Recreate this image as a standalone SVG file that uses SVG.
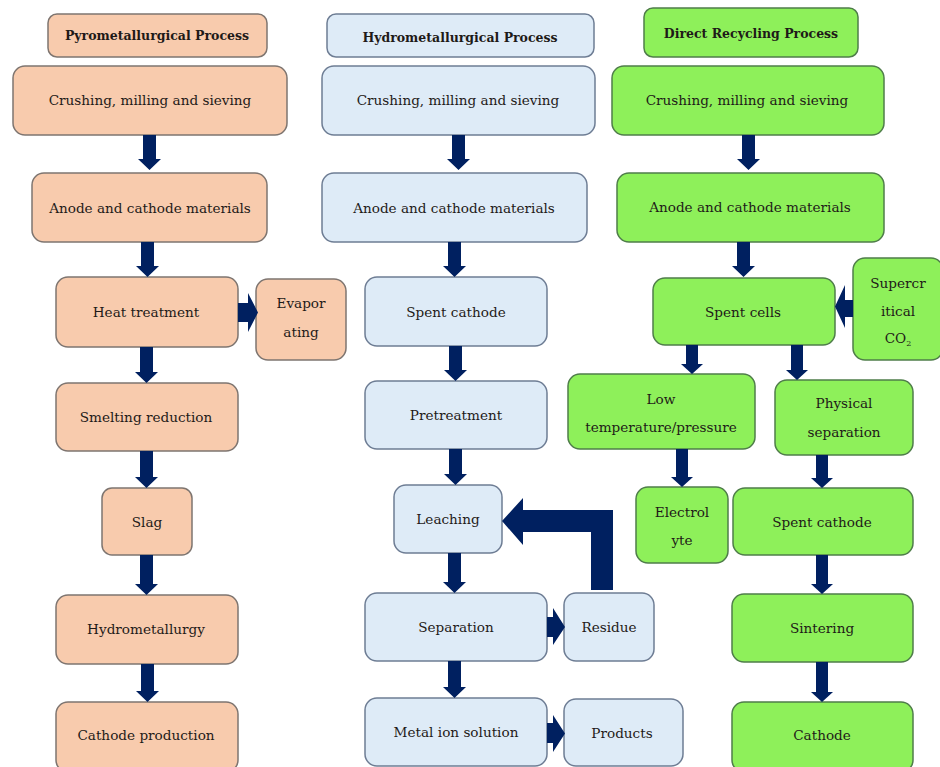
<svg xmlns="http://www.w3.org/2000/svg" width="940" height="767" viewBox="0 0 940 767">
<style>
.p{fill:#F8CBAD;stroke:#7E7570;stroke-width:1.5}
.h{fill:#DEEBF7;stroke:#6E7D94;stroke-width:1.5}
.d{fill:#8EF05A;stroke:#4F7D4A;stroke-width:1.5}
text{font-family:"DejaVu Serif","Liberation Serif",serif;font-size:13.6px;fill:#1E1A18;text-anchor:middle}
.t{font-weight:bold;font-size:12.5px}
.a{fill:#002060}
</style>
<rect width="940" height="767" fill="#FFFFFF"/>
<g id="p-title"><rect class="p" x="48" y="14" width="219" height="43" rx="9"/><text class="t" x="157" y="40">Pyrometallurgical Process</text></g>
<g id="p-crush"><rect class="p" x="13" y="66" width="274" height="69" rx="12"/><text x="150" y="105">Crushing, milling and sieving</text></g>
<g id="p-anode"><rect class="p" x="32" y="173" width="235" height="69" rx="12"/><text x="150" y="213">Anode and cathode materials</text></g>
<g id="p-heat"><rect class="p" x="56" y="277" width="182" height="70" rx="12"/><text x="146" y="317">Heat treatment</text></g>
<g id="p-evap"><rect class="p" x="256" y="279" width="90" height="81" rx="12"/><text x="301" y="308">Evapor</text><text x="301" y="337">ating</text></g>
<g id="p-smelt"><rect class="p" x="56" y="383" width="182" height="68" rx="12"/><text x="146" y="422">Smelting reduction</text></g>
<g id="p-slag"><rect class="p" x="102" y="488" width="90" height="67" rx="10"/><text x="147" y="527">Slag</text></g>
<g id="p-hydro"><rect class="p" x="56" y="595" width="182" height="69" rx="12"/><text x="146" y="634">Hydrometallurgy</text></g>
<g id="p-cathode"><rect class="p" x="56" y="702" width="182" height="70" rx="12"/><text x="146" y="740">Cathode production</text></g>

<g id="h-title"><rect class="h" x="327" y="14" width="267" height="43" rx="9"/><text class="t" x="460" y="42">Hydrometallurgical Process</text></g>
<g id="h-crush"><rect class="h" x="322" y="66" width="273" height="69" rx="12"/><text x="458" y="105">Crushing, milling and sieving</text></g>
<g id="h-anode"><rect class="h" x="322" y="173" width="265" height="69" rx="12"/><text x="454" y="213">Anode and cathode materials</text></g>
<g id="h-spent"><rect class="h" x="365" y="277" width="182" height="69" rx="12"/><text x="456" y="317">Spent cathode</text></g>
<g id="h-pre"><rect class="h" x="365" y="381" width="182" height="68" rx="12"/><text x="456" y="420">Pretreatment</text></g>
<g id="h-leach"><rect class="h" x="394" y="485" width="108" height="68" rx="12"/><text x="448" y="524">Leaching</text></g>
<g id="h-sep"><rect class="h" x="365" y="593" width="182" height="68" rx="12"/><text x="456" y="632">Separation</text></g>
<g id="h-res"><rect class="h" x="564" y="593" width="90" height="68" rx="12"/><text x="609" y="632">Residue</text></g>
<g id="h-metal"><rect class="h" x="365" y="698" width="182" height="68" rx="12"/><text x="456" y="737">Metal ion solution</text></g>
<g id="h-prod"><rect class="h" x="564" y="699" width="119" height="67" rx="12"/><text x="622" y="738">Products</text></g>

<g id="d-title"><rect class="d" x="644" y="8" width="214" height="49" rx="9"/><text class="t" x="751" y="38">Direct Recycling Process</text></g>
<g id="d-crush"><rect class="d" x="612" y="66" width="272" height="69" rx="12"/><text x="747" y="105">Crushing, milling and sieving</text></g>
<g id="d-anode"><rect class="d" x="617" y="173" width="267" height="69" rx="12"/><text x="750" y="212">Anode and cathode materials</text></g>
<g id="d-cells"><rect class="d" x="653" y="278" width="182" height="67" rx="12"/><text x="743" y="317">Spent cells</text></g>
<g id="d-co2"><rect class="d" x="853" y="258" width="90" height="102" rx="12"/><text x="898" y="288">Supercr</text><text x="898" y="316">itical</text><text x="898" y="343">CO<tspan font-size="8" dy="3">2</tspan></text></g>
<g id="d-low"><rect class="d" x="568" y="374" width="187" height="75" rx="12"/><text x="661" y="404">Low</text><text x="661" y="432">temperature/pressure</text></g>
<g id="d-phys"><rect class="d" x="775" y="380" width="138" height="75" rx="12"/><text x="844" y="408">Physical</text><text x="844" y="437">separation</text></g>
<g id="d-elec"><rect class="d" x="636" y="487" width="92" height="76" rx="12"/><text x="682" y="517">Electrol</text><text x="682" y="545">yte</text></g>
<g id="d-spent"><rect class="d" x="733" y="488" width="180" height="67" rx="12"/><text x="822" y="527">Spent cathode</text></g>
<g id="d-sinter"><rect class="d" x="732" y="594" width="181" height="68" rx="12"/><text x="822" y="633">Sintering</text></g>
<g id="d-cathode"><rect class="d" x="732" y="702" width="181" height="70" rx="12"/><text x="822" y="740">Cathode</text></g>

<g id="connectors" class="a">
<polygon points="143,135 156,135 156,159 161,159 149.5,170 138,159 143,159"/>
<polygon points="141,242 154,242 154,266 159,266 147.5,277 136,266 141,266"/>
<polygon points="140,347 153,347 153,372 158,372 146.5,383 135,372 140,372"/>
<polygon points="140,451 153,451 153,477 158,477 146.5,488 135,477 140,477"/>
<polygon points="140,555 153,555 153,584 158,584 146.5,595 135,584 140,584"/>
<polygon points="141,664 154,664 154,691 159,691 147.5,702 136,691 141,691"/>
<polygon points="238,303 248,303 248,293 258,312.5 248,332 248,322 238,322"/>
<polygon points="452,135 465,135 465,159 470,159 458.5,170 447,159 452,159"/>
<polygon points="448,242 461,242 461,266 466,266 454.5,277 443,266 448,266"/>
<polygon points="449,346 462,346 462,370 467,370 455.5,381 444,370 449,370"/>
<polygon points="449,449 462,449 462,474 467,474 455.5,485 444,474 449,474"/>
<polygon points="448,553 461,553 461,582 466,582 454.5,593 443,582 448,582"/>
<polygon points="448,661 461,661 461,687 466,687 454.5,698 443,687 448,687"/>
<polygon points="547,617 553,617 553,608 565,627 553,645 553,637 547,637"/>
<polygon points="547,723 553,723 553,715 565,733.5 553,752 553,743 547,743"/>
<polygon points="613,590 591,590 591,532 523,532 523,545 502,521 523,498 523,510 613,510"/>
<polygon points="742,135 755,135 755,159 760,159 748.5,170 737,159 742,159"/>
<polygon points="737,242 750,242 750,266 755,266 743.5,277 732,266 737,266"/>
<polygon points="853,300 845,300 845,285 835,306.5 845,328 845,317 853,317"/>
<polygon points="686,345 698,345 698,364 703,364 692,374 681,364 686,364"/>
<polygon points="791,345 803,345 803,370 808,370 797,380 786,370 791,370"/>
<polygon points="676,449 688,449 688,477 693,477 682,487 671,477 676,477"/>
<polygon points="816,455 828,455 828,478 833,478 822,488 811,478 816,478"/>
<polygon points="816,555 828,555 828,584 833,584 822,594 811,584 816,584"/>
<polygon points="816,662 828,662 828,692 833,692 822,702 811,692 816,692"/>
</g>
</svg>
